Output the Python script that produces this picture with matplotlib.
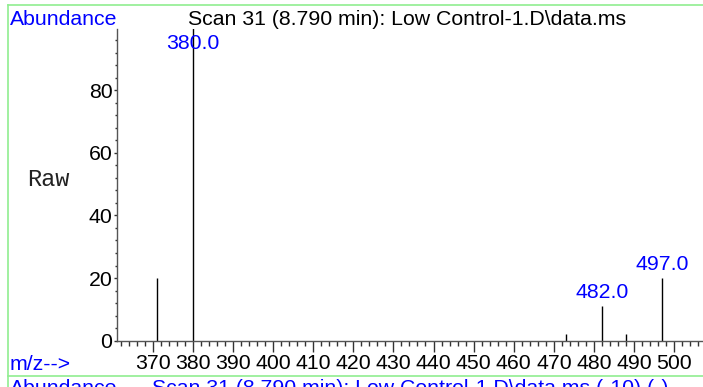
import matplotlib.pyplot as plt
from matplotlib.lines import Line2D
from matplotlib.ticker import MultipleLocator

# Mass spectrum, scan 31 (relative abundance)
mz = [371, 380, 473, 482, 488, 497]
abundance = [20, 100, 2, 11, 2, 20]
labeled_mz = [380, 482, 497]

scan_title = r'Scan 31 (8.790 min): Low Control-1.D\data.ms'
next_title = r'Scan 31 (8.790 min): Low Control-1.D\data.ms (-10) (-)'

BLUE = '#0000FF'
GREEN = '#90EE90'
FONT = 'Liberation Sans'
FS = 15.3

fig = plt.figure(figsize=(7.03, 3.87), dpi=100)
ax = fig.add_axes([0.166, 0.1196, 0.834, 0.8062])

ax.vlines(mz, 0, abundance, colors='black', linewidth=1.0)

for m, a in zip(mz, abundance):
    if m in labeled_mz:
        ax.annotate(f'{m:.1f}', xy=(m, min(a, 90.5)), xytext=(0, 3),
                    textcoords='offset points', ha='center', va='bottom',
                    color=BLUE, fontsize=FS, family=FONT)

ax.set_xlim(361, 507.2)
ax.set_ylim(0, 99.6)
ax.xaxis.set_major_locator(MultipleLocator(10))
ax.xaxis.set_minor_locator(MultipleLocator(2))
ax.set_yticks([0, 20, 40, 60, 80])
ax.yaxis.set_minor_locator(MultipleLocator(4))

for s in ['top', 'right']:
    ax.spines[s].set_visible(False)
for s in ['left', 'bottom']:
    ax.spines[s].set_color('#555555')
    ax.spines[s].set_linewidth(1.0)

ax.tick_params(axis='x', which='major', direction='out', length=7.8, width=1,
               color='#333333', pad=1.5, labelsize=FS)
ax.tick_params(axis='x', which='minor', direction='out', length=3.4, width=1,
               color='#333333')
ax.tick_params(axis='y', which='major', direction='out', length=2.2, width=1,
               color='#333333', pad=1, labelsize=FS)
ax.tick_params(axis='y', which='minor', direction='out', length=1.5, width=1,
               color='#333333')
for lab in ax.get_xticklabels() + ax.get_yticklabels():
    lab.set_family(FONT)

W, H = 703, 387
fig.text(10 / W, 1 - 25 / H, 'Abundance', color=BLUE, fontsize=FS,
         family=FONT, ha='left', va='baseline')
fig.text(188 / W, 1 - 25 / H, scan_title, color='black', fontsize=FS,
         family=FONT, ha='left', va='baseline')
fig.text(10 / W, 1 - 370 / H, 'm/z-->', color=BLUE, fontsize=FS,
         family=FONT, ha='left', va='baseline')
fig.text(48 / W, 1 - 180 / H, 'Raw', color='#222222', fontsize=17,
         family='Liberation Mono', ha='center', va='center')

# header of the next panel, cut by the bottom edge as in the source
fig.text(10 / W, 1 - 394 / H, 'Abundance', color=BLUE, fontsize=FS,
         family=FONT, ha='left', va='baseline')
fig.text(152 / W, 1 - 394 / H, next_title, color=BLUE, fontsize=FS,
         family=FONT, ha='left', va='baseline')

# green panel frames
fig.add_artist(Line2D([8 / W, 8 / W], [0, 1 - 5 / H], color=GREEN, lw=1.2))
fig.add_artist(Line2D([8 / W, 1], [1 - 5 / H, 1 - 5 / H], color=GREEN, lw=1.2))
fig.add_artist(Line2D([8 / W, 1], [1 - 376 / H, 1 - 376 / H], color=GREEN, lw=1.2))

fig.savefig('out.png', dpi=100)
